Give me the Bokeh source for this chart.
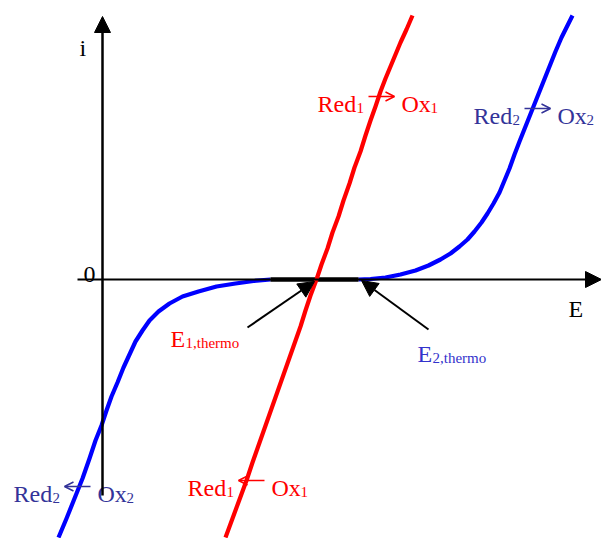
from bokeh.plotting import figure
from bokeh.models import Range1d, Arrow, NormalHead, OpenHead
from bokeh.core.properties import value
from bokeh.embed import file_html
from bokeh.resources import INLINE

# Current-potential curves (E along x, i along y, origin where the axes cross)
red_E = [123, 130, 137, 144, 150, 156, 162, 168, 174, 180, 186, 192, 198, 203,
         208, 214, 219, 225, 230, 236, 241, 247, 252, 258, 263, 268, 273, 278,
         283, 288, 293, 298, 304, 310]
red_i = [-258, -239, -220, -201, -183, -166, -149, -132, -115, -98, -81, -64,
         -47, -31, -16, 0, 15, 31, 47, 63, 79, 96, 112, 128, 144, 159, 173, 188,
         201, 213, 225, 237, 250, 264]

blue_left_E = [-44, -36, -28, -20, -13, -7, -1, 4, 9, 15, 21, 27, 33, 40, 47,
               56, 67, 80, 96, 114, 133, 151, 168]
blue_left_i = [-258, -239, -219, -199, -179, -161, -146, -131, -117, -103, -88,
               -75, -62, -51, -41, -32, -24, -17, -12, -7, -4, -1.5, 0]

blue_right_E = [256, 268, 283, 298, 313, 326, 338, 348, 357, 365, 372, 379, 385,
                391, 397, 402, 407, 412, 417, 423, 429, 435, 441, 447, 453, 459,
                465, 470]
blue_right_i = [0, 0.5, 2, 5, 9, 14, 20, 26, 33, 40, 48, 57, 66, 76, 87, 99,
                111, 125, 138, 153, 168, 183, 198, 213, 228, 242, 254, 264]

# Equilibrium potentials marked on the E axis
E1_thermo = 212
E2_thermo = 259

# Label texts
axis_i = "i"
axis_E = "E"
axis_zero = "0"

RED = "#ff0000"
BLUE = "#0000ff"
BLUE_TXT = "#333399"
BLUE_E = "#3333cc"
FONT = value("Liberation Serif")

p = figure(width=601, height=538, output_backend="svg", toolbar_location=None,
           x_range=Range1d(-102, 499), y_range=Range1d(-259, 279),
           x_axis_type=None, y_axis_type=None, min_border=0,
           outline_line_color=None, background_fill_color="white")
p.grid.visible = False


def px(x):
    return x - 102


def py(y):
    return 279 - y


def run(x, y, txt, color, size):
    p.text(x=[px(x)], y=[py(y)], text=[txt], text_color=color,
           text_font=FONT, text_font_size=value(f"{size}px"),
           text_baseline="alphabetic", text_align="left")


def redox(x0, base, sub, direction, color):
    # "Red_n -> Ox_n" (or <-) with subscripts and a drawn arrow
    run(x0, base, "Red", color, 24)
    run(x0 + 39, base + 4, sub, color, 15)
    a, b = x0 + 51, x0 + 77
    if direction < 0:
        a, b = b, a
    p.add_layout(Arrow(x_start=px(a), y_start=py(base - 7), x_end=px(b), y_end=py(base - 7),
                       line_color=color, line_width=1.5,
                       end=OpenHead(size=9, line_color=color, line_width=1.5)))
    run(x0 + 84, base, "Ox", color, 24)
    run(x0 + 113, base + 4, sub, color, 15)


# Axes with arrow heads
p.add_layout(Arrow(x_start=px(77), y_start=0, x_end=px(601), y_end=0,
                   line_width=2, line_color="black",
                   end=NormalHead(size=16, fill_color="black", line_color="black")))
p.add_layout(Arrow(x_start=0, y_start=py(495), x_end=0, y_end=py(16),
                   line_width=2.5, line_color="black",
                   end=NormalHead(size=16, fill_color="black", line_color="black")))

# Curves
p.line(blue_left_E, blue_left_i, line_color=BLUE, line_width=4.2, line_join="round")
p.line(blue_right_E, blue_right_i, line_color=BLUE, line_width=4.2, line_join="round")
p.line([blue_left_E[-1], blue_right_E[0]], [0, 0], line_color="black", line_width=4.5)
p.line(red_E, red_i, line_color=RED, line_width=4.2, line_join="round")

# Pointers to the equilibrium potentials
p.add_layout(Arrow(x_start=px(247), y_start=py(327), x_end=E1_thermo, y_end=-2,
                   line_width=2, line_color="black",
                   end=NormalHead(size=16, fill_color="black", line_color="black")))
p.add_layout(Arrow(x_start=px(428), y_start=py(329), x_end=E2_thermo, y_end=-1,
                   line_width=2, line_color="black",
                   end=NormalHead(size=16, fill_color="black", line_color="black")))

# Axis labels
run(79, 47, axis_i, "black", 24)
run(83, 274, axis_zero, "black", 24)
run(568, 308, axis_E, "black", 24)

# Reaction labels
redox(317, 103, "1", 1, RED)
redox(473, 115, "2", 1, BLUE_TXT)
redox(13, 493, "2", -1, BLUE_TXT)
redox(187, 487, "1", -1, RED)

# Equilibrium potential labels
run(170, 338, "E", RED, 24)
run(185, 342, "1,thermo", RED, 15)
run(417, 353, "E", BLUE_E, 24)
run(432, 357, "2,thermo", BLUE_E, 15)

open("out.html", "w").write(file_html(p, INLINE))
